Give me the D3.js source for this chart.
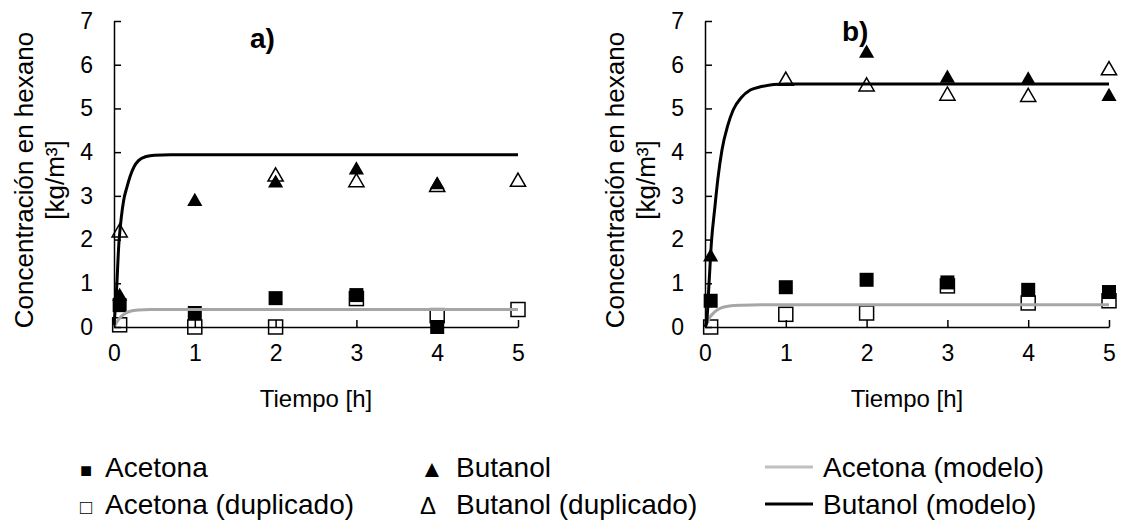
<!DOCTYPE html>
<html><head><meta charset="utf-8">
<script src="https://cdn.jsdelivr.net/npm/d3@7"></script>
<style>body{margin:0;background:#fff}svg{display:block}text{font-family:"Liberation Sans",Arial,sans-serif;fill:#000}</style>
</head><body><svg id="c" width="1124" height="522"></svg>
<script>
// ---- data ----
const xTicks=[0,1,2,3,4,5];
const yTicks=[0,1,2,3,4,5,6,7];
// Panel a
const aAcetT=[0.07,1,2,3,4];           const aAcetV=[0.5,0.32,0.66,0.73,0.0];
const aAcetDupT=[0.07,1,2,3,4,5];      const aAcetDupV=[0.05,0.0,0.0,0.65,0.26,0.4];
const aButT=[0.07,1,2,3,4];            const aButV=[0.7,2.87,3.29,3.59,3.25];
const aButDupT=[0.07,2,3,4,5];         const aButDupV=[2.16,3.44,3.31,3.2,3.32];
const aModAcetT=[0,0.03,0.06,0.1,0.15,0.2,0.3,0.45,1,5];
const aModAcetV=[0,0.1,0.18,0.26,0.32,0.36,0.39,0.4,0.4,0.4];
const aModButT=[0,0.03,0.06,0.09,0.12,0.16,0.2,0.25,0.3,0.4,0.5,0.7,1,5];
const aModButV=[0.05,0.8,1.9,2.5,2.9,3.2,3.45,3.67,3.8,3.9,3.93,3.94,3.94,3.94];
// Panel b
const bAcetT=[0.07,1,2,3,4,5];         const bAcetV=[0.6,0.91,1.08,1.02,0.85,0.8];
const bAcetDupT=[0.07,1,2,3,4,5];      const bAcetDupV=[0.0,0.29,0.32,0.94,0.55,0.6];
const bButT=[0.07,2,3,4,5];            const bButV=[1.6,6.26,5.69,5.65,5.27];
const bButDupT=[1,2,3,4,5];            const bButDupV=[5.63,5.5,5.29,5.26,5.87];
const bModAcetT=[0,0.03,0.06,0.1,0.15,0.2,0.3,0.45,0.7,1,5];
const bModAcetV=[0,0.1,0.22,0.31,0.39,0.44,0.48,0.5,0.51,0.51,0.51];
const bModButT=[0,0.02,0.05,0.08,0.12,0.16,0.21,0.28,0.35,0.45,0.56,0.7,0.85,1,5];
const bModButV=[0,0.1,1.0,1.95,2.7,3.4,4.05,4.6,4.97,5.25,5.42,5.5,5.55,5.56,5.56];
const panelLabels=["a)","b)"];
const yTitle=["Concentración en hexano","[kg/m³]"];
const xTitle="Tiempo [h]";
const legendItems=[
 {sym:"■",label:"Acetona"},{sym:"▲",label:"Butanol"},{line:"#c0c0c0",label:"Acetona (modelo)"},
 {sym:"□",label:"Acetona (duplicado)"},{sym:"Δ",label:"Butanol (duplicado)"},{line:"#000",label:"Butanol (modelo)"}];

const svg=d3.select("#c");
const zip=(t,v)=>t.map((x,i)=>[x,v[i]]);
const panels=[
 {x0:114,lab:{x:250,y:48},acet:zip(aAcetT,aAcetV),acetDup:zip(aAcetDupT,aAcetDupV),but:zip(aButT,aButV),butDup:zip(aButDupT,aButDupV),mA:zip(aModAcetT,aModAcetV),mB:zip(aModButT,aModButV)},
 {x0:705,lab:{x:842,y:41},acet:zip(bAcetT,bAcetV),acetDup:zip(bAcetDupT,bAcetDupV),but:zip(bButT,bButV),butDup:zip(bButDupT,bButDupV),mA:zip(bModAcetT,bModAcetV),mB:zip(bModButT,bModButV)}];
const W=404, yTop=21, yBot=327;
const tri=d3.symbol().type(d3.symbolTriangle).size(100);
panels.forEach((p,pi)=>{
  const x=d3.scaleLinear().domain([0,5]).range([p.x0,p.x0+W]);
  const y=d3.scaleLinear().domain([0,7]).range([yBot,yTop]);
  const g=svg.append("g");
  const sq=14;
  g.selectAll(".ad").data(p.acetDup).join("rect").attr("x",d=>x(d[0])-sq/2).attr("y",d=>y(d[1])-sq/2).attr("width",sq).attr("height",sq).attr("fill","#fff").attr("stroke","#000").attr("stroke-width",1.5);
  g.selectAll(".a").data(p.acet).join("rect").attr("x",d=>x(d[0])-sq/2).attr("y",d=>y(d[1])-sq/2).attr("width",sq).attr("height",sq).attr("fill","#000");
  g.selectAll(".bd").data(p.butDup).join("path").attr("d",tri).attr("transform",d=>`translate(${x(d[0])},${y(d[1])})`).attr("fill","#fff").attr("stroke","#000").attr("stroke-width",1.5);
  g.selectAll(".b").data(p.but).join("path").attr("d",tri).attr("transform",d=>`translate(${x(d[0])},${y(d[1])})`).attr("fill","#000");
  const line=d3.line().x(d=>x(d[0])).y(d=>y(d[1])).curve(d3.curveMonotoneX);
  g.append("path").attr("d",line(p.mA)).attr("fill","none").attr("stroke","#a6a6a6").attr("stroke-width",3);
  g.append("path").attr("d",line(p.mB)).attr("fill","none").attr("stroke","#000").attr("stroke-width",3);
  const ax=g.append("g").attr("transform",`translate(0,${yBot})`).call(d3.axisBottom(x).tickValues(xTicks).tickFormat(d3.format("d")).tickSizeInner(-7).tickSizeOuter(0).tickPadding(18));
  const ay=g.append("g").attr("transform",`translate(${p.x0},0)`).call(d3.axisLeft(y).tickValues(yTicks).tickFormat(d3.format("d")).tickSizeInner(-7).tickSizeOuter(0).tickPadding(21));
  [ax,ay].forEach(a=>{a.select(".domain").attr("stroke","#000").attr("stroke-width",1.5);a.selectAll(".tick line").attr("stroke","#000").attr("stroke-width",1.5);a.selectAll("text").style("font-size","23px");});
  const cy=180;
  g.append("text").attr("transform",`translate(${p.x0-81},${cy}) rotate(-90)`).attr("text-anchor","middle").style("font-size","26px").text(yTitle[0]);
  g.append("text").attr("transform",`translate(${p.x0-50},${cy}) rotate(-90)`).attr("text-anchor","middle").style("font-size","26px").text(yTitle[1]);
  g.append("text").attr("x",p.x0+W/2).attr("y",407).attr("text-anchor","middle").style("font-size","24px").text(xTitle);
  g.append("text").attr("x",p.lab.x).attr("y",p.lab.y).style("font-size","28px").style("font-weight","bold").text(panelLabels[pi]);
});
// legend
const colX=[80,420,765], rowY=[477,514];
legendItems.forEach((it,i)=>{
  const cx=colX[i%3], cy=rowY[Math.floor(i/3)];
  if(it.line){
    svg.append("line").attr("x1",cx).attr("x2",cx+48).attr("y1",cy-10).attr("y2",cy-10).attr("stroke",it.line).attr("stroke-width",3);
    svg.append("text").attr("x",cx+58).attr("y",cy).style("font-size","28px").text(it.label);
  } else {
    const big=(it.sym==="▲"||it.sym==="Δ");
    svg.append("text").attr("x",cx).attr("y",cy).style("font-size",big?"24px":"20px").text(it.sym);
    svg.append("text").attr("x",cx+(big?36:25)).attr("y",cy).style("font-size","28px").text(it.label);
  }
});
</script></body></html>
